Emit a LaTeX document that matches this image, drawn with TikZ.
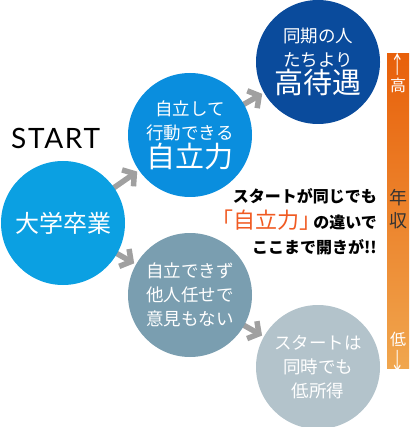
\documentclass[tikz,border=0pt]{standalone}
\usepackage{fontspec}
\newfontfamily\jpfont{Noto Sans CJK JP}
\newfontfamily\startfont{Lato}[LetterSpace=6]
\newcommand\halfbr[1]{{\addfontfeature{RawFeature=+halt}#1}}
\usetikzlibrary{arrows.meta,backgrounds}

\definecolor{gradblue}{HTML}{0BA0E2}
\definecolor{selfblue}{HTML}{0A8EDE}
\definecolor{topblue}{HTML}{0A4B9C}
\definecolor{dullblue}{HTML}{7A9EB0}
\definecolor{paleblue}{HTML}{B3C3CB}
\definecolor{arrowgray}{HTML}{A0A0A0}
\definecolor{accent}{HTML}{F05A22}
\definecolor{bartop}{HTML}{E8600A}
\definecolor{barbottom}{HTML}{F0A64E}

\begin{document}
\begin{tikzpicture}[
  x=1pt, y=-1pt,
  bubble/.style={circle, minimum size=124pt, inner sep=0pt, text=white, align=center,
    font=\jpfont\fontsize{17.5}{24}\selectfont},
  arr/.style={draw=arrowgray, line width=5.5pt, -{Straight Barb[length=8pt,width=20pt]},
    shorten <=-8pt, shorten >=2pt},
  barlabel/.style={font=\jpfont\fontsize{16}{15}\selectfont, align=center, inner sep=0pt}
]
\useasboundingbox (0,0) rectangle (409,427);

\node[font=\startfont\fontsize{28}{28}\selectfont, anchor=west, inner sep=0pt] (start) at (11,138) {START};

\node[bubble, fill=gradblue, font=\jpfont\fontsize{24}{24}\selectfont] (grad) at (63,223) {大学卒業};
\node[bubble, fill=selfblue] (self) at (190,135) {自立して\\行動できる\\[1pt]{\fontsize{29}{29}\selectfont 自立力}};
\node[bubble, fill=topblue] (high) at (318,62) {同期の人\\たちより\\[1pt]{\fontsize{29}{29}\selectfont 高待遇}};
\node[bubble, fill=dullblue] (depend) at (190,295) {自立できず\\他人任せで\\意見もない};
\node[bubble, fill=paleblue] (low) at (318,367) {スタートは\\同時でも\\低所得};

% Arrows
\begin{scope}[on background layer]
\draw[arr] (grad) -- (self);
\draw[arr] (self) -- (high);
\draw[arr] (grad) -- (depend);
\draw[arr] (depend) -- (low);
\end{scope}

% Message
\node[font=\jpfont\bfseries\fontsize{16}{25.5}\selectfont, align=right, anchor=east, inner sep=0pt] (msg) at (377,222)
  {スタートが同じでも\\{\color{accent}\mdseries\fontsize{22}{22}\selectfont \halfbr{「}自立力\halfbr{」}}\kern3pt の違いで\\ここまで開きが!!};

% Income bar
\node[rectangle, minimum width=22pt, minimum height=314pt, inner sep=0pt,
  top color=bartop, bottom color=barbottom] (bar) at (398,211) {};
\node[barlabel, text=white, anchor=north] (up) at ([yshift=1pt]bar.north) {\scalebox{0.9}[1.5]{↑}\\[2pt]高};
\node[barlabel, text=black!80, font=\jpfont\fontsize{18}{23}\selectfont] (income) at (398,209) {年\\収};
\node[barlabel, text=white, anchor=south] (down) at ([yshift=-5pt]bar.south) {低\\[3pt]\scalebox{0.9}[1.5]{↓}};

\end{tikzpicture}
\end{document}
